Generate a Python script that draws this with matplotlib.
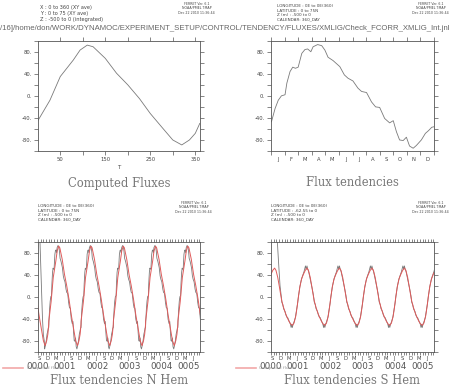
import matplotlib
matplotlib.use("Agg")
import matplotlib.pyplot as plt
from matplotlib.lines import Line2D
import numpy as np

# ---- data ------------------------------------------------------------------
# N Hem computed fluxes, one annual cycle (x is T / day of year)
T_COMP_NH = [1, 27, 50, 79, 94, 110, 123, 150, 175, 200, 226, 250, 278, 300, 320, 337, 350, 360]
COMP_NH = [-44, -8, 35, 65, 83, 92, 89, 68, 41, 20, -5, -32, -59, -80, -89, -80, -68, -50]

# N Hem flux tendencies, one annual cycle (360-day calendar)
DAY_TEND_NH = [1, 9, 16, 23, 31, 35, 42, 48, 54, 60, 68, 75, 81, 88, 93, 103, 112, 119,
               126, 137, 152, 162, 170, 181, 192, 200, 211, 222, 231, 240, 251, 262, 270,
               277, 284, 292, 299, 306, 314, 321, 332, 341, 348, 355, 360]
TEND_NH = [-47, -23, -8, 0, 2, 23, 44, 52, 50, 52, 77, 84, 85, 80, 89, 93, 91, 83,
           70, 64, 53, 38, 32, 27, 14, 8, 6, -11, -20, -21, -41, -49, -45,
           -65, -80, -81, -75, -91, -95, -90, -80, -68, -63, -57, -56]

# S Hem computed fluxes, one annual cycle
DAY_COMP_SH = [0, 20, 40, 60, 80, 100, 117, 135, 155, 170, 184, 200, 220, 240, 260, 280,
               295, 315, 335, 351, 360]
COMP_SH = [-8, -20, -30, -38, -45, -50, -52, -48, -35, -18, 0, 18, 33, 41, 48, 52,
           48, 35, 16, 0, -8]

# S Hem flux tendencies, one annual cycle
DAY_TEND_SH = [0, 10, 20, 30, 36, 45, 55, 65, 75, 85, 95, 103, 110, 117, 125, 135, 150,
               165, 175, 184, 200, 215, 230, 245, 262, 270, 279, 287, 297, 310, 325, 340,
               351, 360]
TEND_SH = [-10, -14, -22, -25, -27, -33, -37, -38, -42, -46, -50, -56, -50, -56, -50, -46, -38,
           -22, -12, 0, 18, 30, 38, 45, 56, 50, 56, 50, 46, 36, 25, 12,
           2, -10]

# spin-up of the tendency series at the start of the run (days since 0000-01-01)
SPIN_DAY_NH = [240, 255, 262, 270, 280, 290, 300, 310]
SPIN_NH = [160, 130, 100, 60, 10, -40, -70, -80]
SPIN_DAY_SH = [240, 300, 310, 321, 340, 358]
SPIN_SH = [160, 130, 100, 70, 20, -5]

RUN_START, RUN_END = 240, 2047
YEARS = ["0000", "0001", "0002", "0003", "0004", "0005"]
MONTH_LETTERS = ["J", "F", "M", "A", "M", "J", "J", "A", "S", "O", "N", "D"]
SEASON_MONTHS = [2, 5, 8, 11]  # Mar, Jun, Sep, Dec

PATH = "/16]/home/don/WORK/DYNAMOC/EXPERIMENT_SETUP/CONTROL/TENDENCY/FLUXES/XMLIG/Check_FCORR_XMLIG_Int.jnl"
STAMP = "FERRET Ver. 6.1\nNOAA/PMEL TMAP\nDec 22 2010 11:36:44"
HEAD_TL = "X : 0 to 360 (XY ave)\nY : 0 to 75 (XY ave)\nZ : -500 to 0 (integrated)"
HEAD_NH = "LONGITUDE : 0E to 0E(360)\nLATITUDE : 0 to 75N\nZ (m) : -500 to 0\nCALENDAR: 360_DAY"
HEAD_SH = "LONGITUDE : 0E to 0E(360)\nLATITUDE : -62.55 to 0\nZ (m) : -500 to 0\nCALENDAR: 360_DAY"

GREY = "#7a7a7a"
RED = "#e05a5a"
FRAME = "#555555"
TXT = "#444444"


def repeat_years(days, vals, n_years):
    t = np.concatenate([np.asarray(days, float) + 360 * y for y in range(n_years)])
    v = np.tile(np.asarray(vals, float), n_years)
    return t, v


def add_spinup(t, v, spin_days, spin_vals):
    keep = t > spin_days[-1]
    return (np.concatenate([spin_days, t[keep]]),
            np.concatenate([spin_vals, v[keep]]))


def style_y(ax):
    ax.set_yticks([-80, -40, 0, 40, 80])
    ax.set_yticklabels(["-80.", "-40.", "0.", "40.", "80."])
    ax.set_yticks(np.arange(-100, 101, 20), minor=True)
    ax.set_ylim(-100, 100)
    ax.tick_params(axis="both", which="both", direction="out", top=True, right=True,
                   width=0.5, colors=FRAME, labelcolor=TXT, labelsize=3.8, pad=1.5)
    ax.tick_params(axis="both", which="major", length=3)
    ax.tick_params(axis="both", which="minor", length=3)
    for s in ax.spines.values():
        s.set_color(FRAME)
        s.set_linewidth(0.6)


def time_axis(ax):
    n_years = len(YEARS)
    ax.set_xticks(np.arange(0, 360 * n_years + 1, 30))
    ax.set_xticklabels([])
    centers, letters = [], []
    for y in range(n_years):
        for m in SEASON_MONTHS:
            c = 360 * y + 30 * m + 15
            if RUN_START < c < RUN_END:
                centers.append(c)
                letters.append(MONTH_LETTERS[m])
    ax.set_xticks(centers, minor=True)
    ax.set_xticklabels(letters, minor=True)
    ax.set_xlim(RUN_START, RUN_END)
    ax.tick_params(axis="x", which="minor", length=0, labelsize=3.8, pad=3)
    ax.tick_params(axis="x", which="major", length=2)
    for y, lab in enumerate(YEARS):
        lo = max(RUN_START, 360 * y)
        hi = min(RUN_END, 360 * (y + 1))
        # a year cut by the start of the axis is labelled at the axis start
        xc = RUN_START if lo == RUN_START and y > 0 or 360 * y < RUN_START else (lo + hi) / 2
        ax.text(xc, -0.135, lab, transform=ax.get_xaxis_transform(),
                ha="center", va="center", fontsize=6.3, color="#555555")


fig = plt.figure(figsize=(4.51, 3.86), dpi=100)
W, H = 451, 386


def axes_px(left, top, right, bottom):
    return fig.add_axes([left / W, 1 - bottom / H, (right - left) / W, (bottom - top) / H])


ax1 = axes_px(38, 40.7, 200, 151)
ax2 = axes_px(271, 40.7, 434, 151)
ax3 = axes_px(38, 241.7, 200, 351.7)
ax4 = axes_px(271, 241.7, 434, 351.7)

# top-left: computed fluxes
ax1.plot(T_COMP_NH, COMP_NH, color=GREY, lw=0.6)
style_y(ax1)
ax1.set_xticks([50, 150, 250, 350])
ax1.set_xticks([100, 200, 300], minor=True)
ax1.set_xlim(0.5, 360.5)
ax1.set_xlabel("T", fontsize=4, color=TXT, labelpad=2)

# top-right: flux tendencies
ax2.plot(DAY_TEND_NH, TEND_NH, color=GREY, lw=0.6)
style_y(ax2)
ax2.set_xticks(np.arange(0, 361, 30))
ax2.set_xticklabels([])
ax2.set_xticks(np.arange(15, 360, 30), minor=True)
ax2.set_xticklabels(MONTH_LETTERS, minor=True)
ax2.set_xlim(0, 360)
ax2.tick_params(axis="x", which="minor", length=0, pad=4)

# bottom panels: 5-year runs
n_years = len(YEARS)
t_cnh, v_cnh = repeat_years(T_COMP_NH, COMP_NH, n_years)
t_tnh, v_tnh = repeat_years(DAY_TEND_NH, TEND_NH, n_years)
t_tnh, v_tnh = add_spinup(t_tnh, v_tnh, SPIN_DAY_NH, SPIN_NH)
t_csh, v_csh = repeat_years(DAY_COMP_SH, COMP_SH, n_years)
t_tsh, v_tsh = repeat_years(DAY_TEND_SH, TEND_SH, n_years)
t_tsh, v_tsh = add_spinup(t_tsh, v_tsh, SPIN_DAY_SH, SPIN_SH)

for ax, (tt, vt), (tc, vc) in [(ax3, (t_tnh, v_tnh), (t_cnh, v_cnh)),
                               (ax4, (t_tsh, v_tsh), (t_csh, v_csh))]:
    ax.plot(tt, vt, color=GREY, lw=0.6)
    ax.plot(tc, vc, color=RED, lw=0.7)
    style_y(ax)
    time_axis(ax)
    ax.legend(handles=[Line2D([], [], color="#f2a8a8", lw=1.2)], labels=["Computed fluxes"],
              loc="center left", bbox_to_anchor=(-0.24, -0.15), frameon=False,
              fontsize=3.2, handlelength=4.5, handletextpad=0.8, labelcolor="#999999")

# titles
for (cx, cy), title in [((119, 183), "Computed Fluxes"), ((352, 183), "Flux tendencies"),
                        ((119, 380), "Flux tendencies N Hem"),
                        ((352, 380), "Flux tendencies S Hem")]:
    fig.text(cx / W, 1 - cy / H, title, ha="center", va="center", fontsize=8.3,
             family="DejaVu Serif", color="#777777")

# header texts
fig.text(40 / W, 1 - 5 / H, HEAD_TL, fontsize=3.6, va="top", color=TXT, linespacing=1.3)
fig.text(277 / W, 1 - 4 / H, HEAD_NH, fontsize=3.0, va="top", color=TXT, linespacing=1.2)
fig.text(38 / W, 1 - 204 / H, HEAD_NH, fontsize=3.0, va="top", color=TXT, linespacing=1.2)
fig.text(271 / W, 1 - 204 / H, HEAD_SH, fontsize=3.0, va="top", color=TXT, linespacing=1.2)
for x, y in [(215, 2), (449, 2), (212, 201), (449, 201)]:
    fig.text(x / W, 1 - y / H, STAMP, fontsize=2.3, va="top", ha="right", color=TXT,
             linespacing=1.1, multialignment="center")
fig.text(0, 1 - 28 / H, PATH, fontsize=5.55, va="center", ha="left", color="#666666",
         family="Liberation Sans")

fig.savefig("out.png", dpi=100)
